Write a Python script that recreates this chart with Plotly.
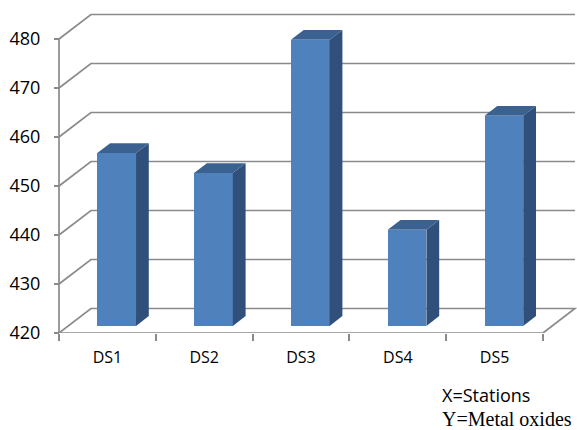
import plotly.graph_objects as go

# Data
stations = ["DS1", "DS2", "DS3", "DS4", "DS5"]
metal_oxides = [455.3, 451.2, 478.4, 439.6, 462.9]
y_ticks = [420, 430, 440, 450, 460, 470, 480]

# Oblique 3D projection: depth w in [0, 1] shifts points right and up
DEPTH_X = 0.33      # category units for full wall depth
DEPTH_Y = 5.0       # value units for full wall depth
BAR_W0, BAR_W1 = 0.29, 0.69   # front/back depth of the bars
BAR_HALF = 0.2
BASE = y_ticks[0]
TOP = y_ticks[-1]

FRONT = "#4F81BD"
SIDE = "#30507B"
ROOF = "#3B6191"
GRID = "#8A8A8A"

def proj(u, v, w):
    return u + DEPTH_X * w, v + DEPTH_Y * w

fig = go.Figure()

# Back wall gridlines, side wall diagonals and floor (drawn below the bars)
shapes = []
x_left = -0.5
x_right = len(stations) - 0.5
for v in y_ticks:
    fx, fy = proj(x_left, v, 0)
    bx, by = proj(x_left, v, 1)
    rx, ry = proj(x_right, v, 1)
    if v == BASE:
        fx2, fy2 = proj(x_right, v, 0)
        path = f"M {fx},{fy} L {fx2},{fy2} L {rx},{ry} L {bx},{by} Z"
    else:
        path = f"M {fx},{fy} L {bx},{by} L {rx},{ry}"
    shapes.append(dict(type="path", path=path, xref="x", yref="y", layer="below",
                       line=dict(color=GRID, width=1.7)))
# Vertical value axis at the front-left corner
shapes.append(dict(type="line", xref="x", yref="y", layer="below",
                   x0=x_left, x1=x_left, y0=BASE, y1=TOP,
                   line=dict(color=GRID, width=1.7)))

# Front faces of the bars
xs = [proj(i, 0, BAR_W0)[0] for i in range(len(stations))]
fig.add_trace(go.Bar(
    x=xs, y=[v - BASE for v in metal_oxides], base=BASE + DEPTH_Y * BAR_W0,
    width=2 * BAR_HALF, marker=dict(color=FRONT, line=dict(width=0)),
    hoverinfo="skip", showlegend=False,
))

# Side and top faces
for i, v in enumerate(metal_oxides):
    xl0, yb0 = proj(i - BAR_HALF, BASE, BAR_W0)
    xr0, yt0 = proj(i + BAR_HALF, v, BAR_W0)
    xr1, yt1 = proj(i + BAR_HALF, v, BAR_W1)
    xl1, _ = proj(i - BAR_HALF, v, BAR_W1)
    _, yb1 = proj(i + BAR_HALF, BASE, BAR_W1)
    fig.add_trace(go.Scatter(
        x=[xr0, xr0, xr1, xr1, xr0], y=[yb0, yt0, yt1, yb1, yb0],
        fill="toself", fillcolor=SIDE, line=dict(width=0), mode="lines",
        hoverinfo="skip", showlegend=False,
    ))
    fig.add_trace(go.Scatter(
        x=[xl0, xr0, xr1, xl1, xl0], y=[yt0, yt0, yt1, yt1, yt0],
        fill="toself", fillcolor=ROOF, line=dict(width=0), mode="lines",
        hoverinfo="skip", showlegend=False,
    ))

L, R, T, B = 40, 0, 10, 97
W, H = 577, 430
px_per_cat = 96.8
px_per_val = 4.9
x0 = x_left - (59 - L) / px_per_cat
x1 = x0 + (W - L - R) / px_per_cat
y1 = BASE + (H - T - B) / px_per_val

fig.update_layout(
    width=W, height=H,
    margin=dict(l=L, r=R, t=T, b=B),
    paper_bgcolor="white", plot_bgcolor="white",
    shapes=shapes,
    bargap=0,
    xaxis=dict(
        range=[x0, x1], showgrid=False, zeroline=False, showline=False,
        tickvals=list(range(len(stations))), ticktext=stations, ticks="",
        tickfont=dict(family="Open Sans", size=16, color="black"),
        ticklabelstandoff=13,
        minor=dict(tickvals=[k - 0.5 for k in range(len(stations) + 1)],
                   ticks="outside", ticklen=7, tickwidth=1.5, tickcolor=GRID),
    ),
    yaxis=dict(
        range=[BASE, y1], showgrid=False, zeroline=False, showline=False,
        anchor="free", position=(59 - L) / (W - L - R),
        tickvals=y_ticks, ticks="outside", ticklen=5, tickwidth=1.5, tickcolor=GRID,
        tickfont=dict(family="Open Sans", size=18, color="black"),
        ticklabelstandoff=10,
    ),
    annotations=[
        dict(text="X=Stations", xref="paper", yref="paper",
             x=(440 - L) / (W - L - R), y=(333 - 395) / (H - T - B),
             xanchor="left", yanchor="middle", showarrow=False,
             font=dict(family="Open Sans", size=18, color="black")),
        dict(text="Y=Metal oxides", xref="paper", yref="paper",
             x=(440 - L) / (W - L - R), y=(333 - 419) / (H - T - B),
             xanchor="left", yanchor="middle", showarrow=False,
             font=dict(family="Liberation Serif", size=20, color="black")),
    ],
)

fig.write_html("out.html")
